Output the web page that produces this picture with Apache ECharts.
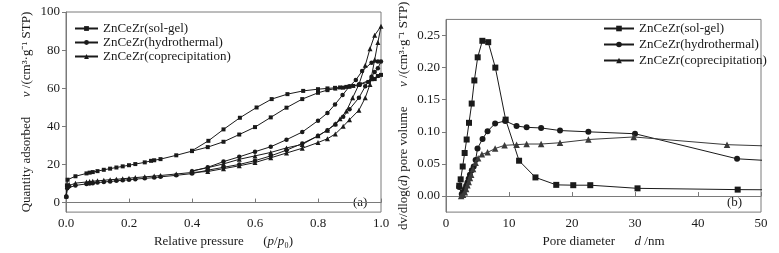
<!DOCTYPE html>
<html>
<head>
<meta charset="utf-8">
<script src="https://cdn.jsdelivr.net/npm/echarts@6/dist/echarts.min.js"></script>
<style>
  html, body { margin: 0; padding: 0; background: #fff; }
  #main { width: 779px; height: 253px; }
</style>
</head>
<body>
<div id="main"></div>
<script>
var names = ['ZnCeZr(sol-gel)', 'ZnCeZr(hydrothermal)', 'ZnCeZr(coprecipitation)']

// (a) isotherms: adsorption branch then desorption branch, [p/p0, v]
var isoSolGel = [
    [0.001, 3], [0.003, 9], [0.005, 12], [0.03, 13.8], [0.065, 15.3], [0.075, 15.7], [0.085, 16],
    [0.1, 16.5], [0.12, 17.2], [0.14, 17.8], [0.16, 18.4], [0.18, 19], [0.2, 19.6], [0.22, 20.2],
    [0.25, 21.1], [0.27, 21.9], [0.28, 22.2], [0.3, 22.8], [0.35, 24.8], [0.4, 27], [0.45, 29.1],
    [0.5, 31.9], [0.55, 35.7], [0.6, 39.6], [0.65, 44.7], [0.7, 49.8], [0.75, 54.3], [0.8, 57.6],
    [0.83, 59], [0.855, 59.8], [0.88, 60.3], [0.9, 60.8], [0.93, 61.8], [0.96, 63.3], [0.98, 64.8],
    [1.0, 67],
    [0.99, 66.4], [0.97, 64.7], [0.933, 62.1], [0.912, 61.2], [0.89, 60.7], [0.87, 60.4], [0.854, 60.2],
    [0.83, 59.9], [0.8, 59.5], [0.753, 58.6], [0.703, 56.9], [0.653, 54.3], [0.605, 49.9],
    [0.552, 44.5], [0.5, 38.4], [0.452, 32.4], [0.4, 27.2]
]
var isoHydro = [
    [0.001, 3], [0.004, 7.5], [0.01, 8.5], [0.03, 9], [0.065, 9.8], [0.075, 10], [0.085, 10.2],
    [0.1, 10.5], [0.12, 10.8], [0.14, 11.1], [0.16, 11.4], [0.18, 11.7], [0.2, 12], [0.22, 12.3],
    [0.25, 12.7], [0.28, 13.1], [0.3, 13.5], [0.35, 14.3], [0.4, 15.2], [0.45, 17], [0.5, 18.5],
    [0.55, 20], [0.6, 22], [0.65, 24.5], [0.7, 27.5], [0.75, 31], [0.8, 35], [0.83, 38], [0.855, 41],
    [0.88, 45], [0.9, 49], [0.93, 55], [0.95, 61], [0.97, 66], [0.98, 68.5], [0.99, 70.5], [1.0, 74],
    [0.99, 74], [0.97, 73.4], [0.94, 69], [0.92, 64.3], [0.9, 61], [0.878, 56.4], [0.854, 51.5],
    [0.83, 47], [0.8, 43], [0.75, 37], [0.7, 33], [0.65, 29.3], [0.6, 26.7], [0.55, 24], [0.5, 21.5],
    [0.45, 18.5], [0.4, 16.5]
]
var isoCopre = [
    [0.001, 4], [0.004, 8.5], [0.01, 9.5], [0.03, 10.2], [0.065, 10.8], [0.075, 11], [0.085, 11.2],
    [0.1, 11.4], [0.12, 11.7], [0.14, 12], [0.16, 12.2], [0.18, 12.5], [0.2, 12.8], [0.22, 13.1],
    [0.25, 13.5], [0.28, 13.9], [0.3, 14.2], [0.35, 15], [0.4, 15.8], [0.45, 16.3], [0.5, 17.8],
    [0.55, 19.3], [0.6, 21], [0.65, 23.5], [0.7, 26], [0.75, 28.5], [0.8, 31.5], [0.83, 33.5],
    [0.855, 36], [0.88, 40], [0.9, 43.5], [0.93, 48.5], [0.95, 55], [0.965, 62], [0.98, 75],
    [0.99, 84], [1.0, 92.5],
    [0.98, 87.8], [0.965, 80.7], [0.95, 72], [0.93, 62], [0.91, 55], [0.89, 48], [0.87, 44],
    [0.855, 41.4], [0.83, 38], [0.8, 35], [0.75, 30.5], [0.7, 28.7], [0.65, 26.3], [0.6, 24.5],
    [0.55, 22.7], [0.5, 20.3], [0.45, 18.3], [0.4, 16.6]
]

// (b) pore size distribution, [d nm, dv/dlog(d)]
var psdSolGel = [
    [2.1, 0.016], [2.33, 0.026], [2.65, 0.046], [2.96, 0.067], [3.28, 0.088], [3.65, 0.114],
    [4.08, 0.144], [4.5, 0.180], [5.03, 0.216], [5.77, 0.2417], [6.7, 0.2396], [7.83, 0.200],
    [9.47, 0.119], [11.6, 0.055], [14.2, 0.029], [17.5, 0.0174], [20.2, 0.0169], [22.9, 0.0169],
    [30.4, 0.012], [46.3, 0.010], [62, 0.0092]
]
var psdHydro = [
    [2.1, 0.014], [2.5, 0.003], [2.8, 0.007], [3.0, 0.011], [3.2, 0.016], [3.4, 0.021], [3.6, 0.027],
    [3.8, 0.033], [4.1, 0.040], [4.4, 0.046], [4.7, 0.056], [5.0, 0.074], [5.8, 0.089], [6.6, 0.101],
    [7.8, 0.113], [9.4, 0.117], [11.2, 0.109], [12.8, 0.107], [15.1, 0.106], [18.1, 0.102],
    [22.6, 0.100], [30.0, 0.097], [46.2, 0.058], [62, 0.049]
]
var psdCopre = [
    [2.4, 0.000], [2.7, 0.002], [3.0, 0.006], [3.2, 0.011], [3.4, 0.017], [3.6, 0.022], [3.8, 0.028],
    [4.0, 0.033], [4.3, 0.042], [4.7, 0.052], [5.1, 0.059], [5.7, 0.065], [6.6, 0.068], [7.8, 0.074],
    [9.3, 0.079], [11.2, 0.080], [12.8, 0.081], [15.1, 0.081], [18.1, 0.083], [22.6, 0.088],
    [29.8, 0.092], [44.6, 0.080], [62, 0.0745]
]

var leftTicks = [0, 20, 40, 60, 80, 100]
var rightTicks = [0, 0.05, 0.10, 0.15, 0.20, 0.25]

var font = 'Liberation Serif'
var ink = '#1a1a1a'
var frame = '#7a7a7a'

function xAxisCfg(idx, min, max, interval, digits, name) {
    return {
        type: 'value', gridIndex: idx, min: min, max: max, interval: interval,
        name: name, nameLocation: 'middle', nameGap: 19,
        nameTextStyle: {
            fontFamily: font, fontSize: 13, color: ink,
            rich: { i: { fontFamily: font, fontSize: 13, color: ink, fontStyle: 'italic' } }
        },
        axisLine: { lineStyle: { color: frame, width: 1 } },
        axisTick: { inside: true, length: 4, lineStyle: { color: frame } },
        axisLabel: {
            fontFamily: font, fontSize: 13, color: ink, margin: 5,
            formatter: function (v) { return v.toFixed(digits) }
        },
        splitLine: { show: false }
    }
}

function yAxisCfg(idx, min, max, ticks, digits, name, gap) {
    return {
        type: 'value', gridIndex: idx, min: min, max: max,
        name: name, nameLocation: 'middle', nameGap: gap,
        nameTextStyle: {
            fontFamily: font, fontSize: 13, color: ink,
            rich: { i: { fontFamily: font, fontSize: 13, color: ink, fontStyle: 'italic' } }
        },
        axisLine: { lineStyle: { color: frame, width: 1 } },
        axisTick: { inside: false, length: 4, customValues: ticks, lineStyle: { color: frame } },
        axisLabel: {
            fontFamily: font, fontSize: 13, color: ink, margin: 6, customValues: ticks,
            formatter: function (v) { return v.toFixed(digits) }
        },
        splitLine: { show: false }
    }
}

function makeSeries(name, data, xi, symbol, size, color) {
    return {
        name: name, type: 'line', xAxisIndex: xi, yAxisIndex: xi, data: data,
        symbol: symbol, symbolSize: size, showAllSymbol: true,
        lineStyle: { color: color, width: 1 },
        itemStyle: { color: color },
        animation: false
    }
}

var chart = echarts.init(document.getElementById('main'))
var option = {
    backgroundColor: '#fff',
    grid: [
        { left: 66, right: 398, top: 12, bottom: 40, show: true, borderColor: frame, borderWidth: 1 },
        { left: 446, right: 18, top: 12, bottom: 40, show: true, borderColor: frame, borderWidth: 1 }
    ],
    xAxis: [
        xAxisCfg(0, 0, 1, 0.2, 1, 'Relative pressure      ({i|p}/{i|p}₀)'),
        xAxisCfg(1, 0, 50, 10, 0, 'Pore diameter      {i|d} /nm')
    ],
    yAxis: [
        yAxisCfg(0, -5, 100, leftTicks, 0, 'Quantity adsorbed      {i|v} /(cm³·g⁻¹ STP)', 33),
        yAxisCfg(1, -0.025, 0.275, rightTicks, 2, 'dv/dlog({i|d}) pore volume      {i|v} /(cm³·g⁻¹ STP)', 36)
    ],
    legend: [
        {
            data: names, orient: 'vertical', left: 69, top: 17, itemWidth: 23, itemHeight: 6, itemGap: 1,
            textStyle: { fontFamily: font, fontSize: 13, color: ink }
        },
        {
            data: names, orient: 'vertical', left: 598, top: 17, itemWidth: 30, itemHeight: 7, itemGap: 3,
            textStyle: { fontFamily: font, fontSize: 13, color: ink }
        }
    ],
    graphic: [
        { type: 'text', left: 353, top: 196, style: { text: '(a)', font: '13px "Liberation Serif"', fill: ink } },
        { type: 'text', left: 727, top: 196, style: { text: '(b)', font: '13px "Liberation Serif"', fill: ink } }
    ],
    series: [
        makeSeries(names[0], isoSolGel, 0, 'rect', 4, ink),
        makeSeries(names[1], isoHydro, 0, 'circle', 4.5, ink),
        makeSeries(names[2], isoCopre, 0, 'triangle', 5, ink),
        makeSeries(names[0], psdSolGel, 1, 'rect', 6, ink),
        makeSeries(names[1], psdHydro, 1, 'circle', 6, ink),
        makeSeries(names[2], psdCopre, 1, 'triangle', 6.5, '#3a3a3a')
    ]
}
chart.setOption(option)
</script>
</body>
</html>
